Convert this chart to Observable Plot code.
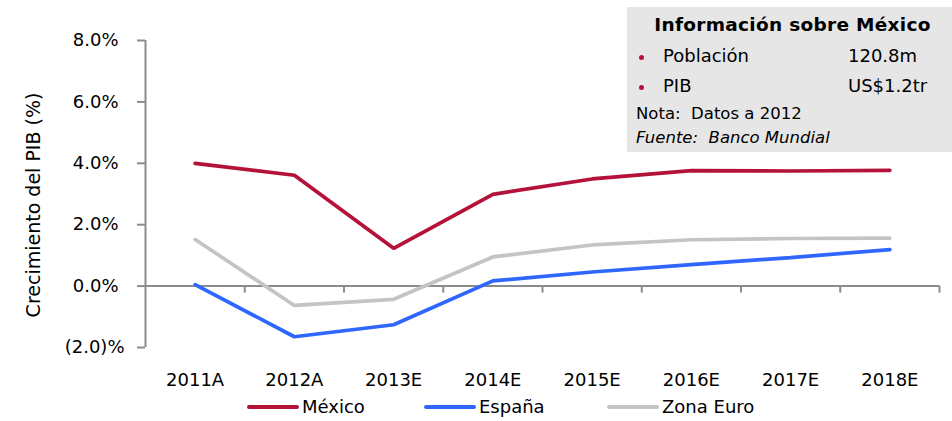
<!DOCTYPE html>
<html>
<head>
<meta charset="utf-8">
<script src="https://cdn.jsdelivr.net/npm/d3@7"></script>
<script src="https://cdn.jsdelivr.net/npm/@observablehq/plot@0.6"></script>
<style>
  html, body { margin: 0; padding: 0; background: #fff; }
  body { font-family: "DejaVu Sans", sans-serif; width: 952px; height: 421px; overflow: hidden; }
  #wrap { position: relative; width: 952px; height: 421px; }
  #info { position: absolute; left: 627px; top: 7px; width: 325px; height: 145px; background: #e6e6e6; color: #000; }
  #info span { position: absolute; white-space: nowrap; line-height: 1; }
  .dot { width: 5px; height: 5px; border-radius: 50%; background: #b5123a; position: absolute; }
  #legend { position: relative; height: 29px; font-size: 18px; }
  .li { position: absolute; top: 0; height: 29px; display: flex; align-items: center; }
  .sw { width: 52px; height: 4px; border-radius: 2px; margin-right: 3px; }
</style>
</head>
<body>
<div id="wrap">
  <div id="chart"></div>
  <div id="legend"></div>
  <div id="info"></div>
</div>
<script>
const categories = ["2011A", "2012A", "2013E", "2014E", "2015E", "2016E", "2017E", "2018E"];
const mexico   = [4.00, 3.61, 1.23, 2.99, 3.49, 3.76, 3.75, 3.77];
const espana   = [0.05, -1.65, -1.26, 0.17, 0.46, 0.70, 0.93, 1.19];
const zonaEuro = [1.52, -0.63, -0.43, 0.95, 1.34, 1.51, 1.55, 1.56];
const seriesNames = ["México", "España", "Zona Euro"];
const seriesColors = ["#b5123a", "#2f66ff", "#c4c4c4"];
const yTicks = [-2, 0, 2, 4, 6, 8];
const yLabel = "Crecimiento del PIB (%)";
const infoTitle = "Información sobre México";
const infoRows = [["Población", "120.8m"], ["PIB", "US$1.2tr"]];
const infoNote = "Nota:\u00a0 Datos a 2012";
const infoSource = "Fuente:\u00a0 Banco Mundial";

const seriesValues = [mexico, espana, zonaEuro];
const rows = [];
seriesValues.forEach((vals, s) => vals.forEach((v, i) => rows.push({series: seriesNames[s], i, v})));
const boundaries = d3.range(1, categories.length + 1).map(k => k - 0.5);

const fmt = v => v < 0 ? `(${Math.abs(v).toFixed(1)})%` : `${v.toFixed(1)}%\u2004`;

const plot = Plot.plot({
  width: 952,
  height: 392,
  marginLeft: 145,
  marginRight: 13,
  marginTop: 40,
  marginBottom: 45,
  style: {fontFamily: "DejaVu Sans, sans-serif", fontSize: "18px", color: "#000", background: "#fff"},
  x: {type: "linear", domain: [-0.5, categories.length - 0.5]},
  y: {domain: [-2, 8]},
  color: {domain: seriesNames, range: seriesColors},
  marks: [
    Plot.ruleX([-0.5], {stroke: "#8c8c8c", strokeWidth: 2}),
    Plot.ruleY([0], {stroke: "#8c8c8c", strokeWidth: 2}),
    Plot.ruleX(boundaries, {y1: 0, y2: 0, insetBottom: -7, stroke: "#8c8c8c", strokeWidth: 2}),
    Plot.axisY({ticks: yTicks, tickFormat: fmt, tickSize: 8, tickPadding: 13, stroke: "#8c8c8c", strokeWidth: 2, fill: "#000", fontSize: 18, label: null}),
    Plot.text([yLabel], {frameAnchor: "left", rotate: -90, dx: -112, dy: 11, fontSize: 19, fill: "#000", textAnchor: "middle", lineAnchor: "middle"}),
    Plot.axisX({ticks: d3.range(categories.length), tickFormat: i => categories[i], tickSize: 0, tickPadding: 26, fill: "#000", fontSize: 18, label: null}),
    Plot.line(rows, {x: "i", y: "v", z: "series", stroke: "series", strokeWidth: 3.7, strokeLinejoin: "miter", strokeLinecap: "round"})
  ]
});
document.getElementById("chart").appendChild(plot);

// Legend
const legend = document.getElementById("legend");
const legendX = [247, 424, 607];
seriesNames.forEach((name, k) => {
  const li = document.createElement("div");
  li.className = "li";
  li.style.left = legendX[k] + "px";
  const sw = document.createElement("div");
  sw.className = "sw";
  sw.style.background = seriesColors[k];
  const tx = document.createElement("span");
  tx.textContent = name;
  li.appendChild(sw); li.appendChild(tx);
  legend.appendChild(li);
});

// Info box
const info = document.getElementById("info");
function addSpan(text, left, top, style) {
  const s = document.createElement("span");
  s.textContent = text;
  s.style.left = left + "px";
  s.style.top = top + "px";
  Object.assign(s.style, style || {});
  info.appendChild(s);
  return s;
}
addSpan(infoTitle, 0, 9, {fontWeight: "bold", fontSize: "18.5px", width: "331px", textAlign: "center", letterSpacing: "0.3px"});
infoRows.forEach(([label, val], r) => {
  const top = 40 + r * 30;
  const d = document.createElement("div");
  d.className = "dot";
  d.style.left = "12px"; d.style.top = (top + 8) + "px";
  info.appendChild(d);
  addSpan(label, 36, top, {fontSize: "18px"});
  addSpan(val, 221, top, {fontSize: "18px"});
});
addSpan(infoNote, 9, 99, {fontSize: "16.5px"});
addSpan(infoSource, 9, 123, {fontSize: "16.5px", fontStyle: "italic"});
</script>
</body>
</html>
